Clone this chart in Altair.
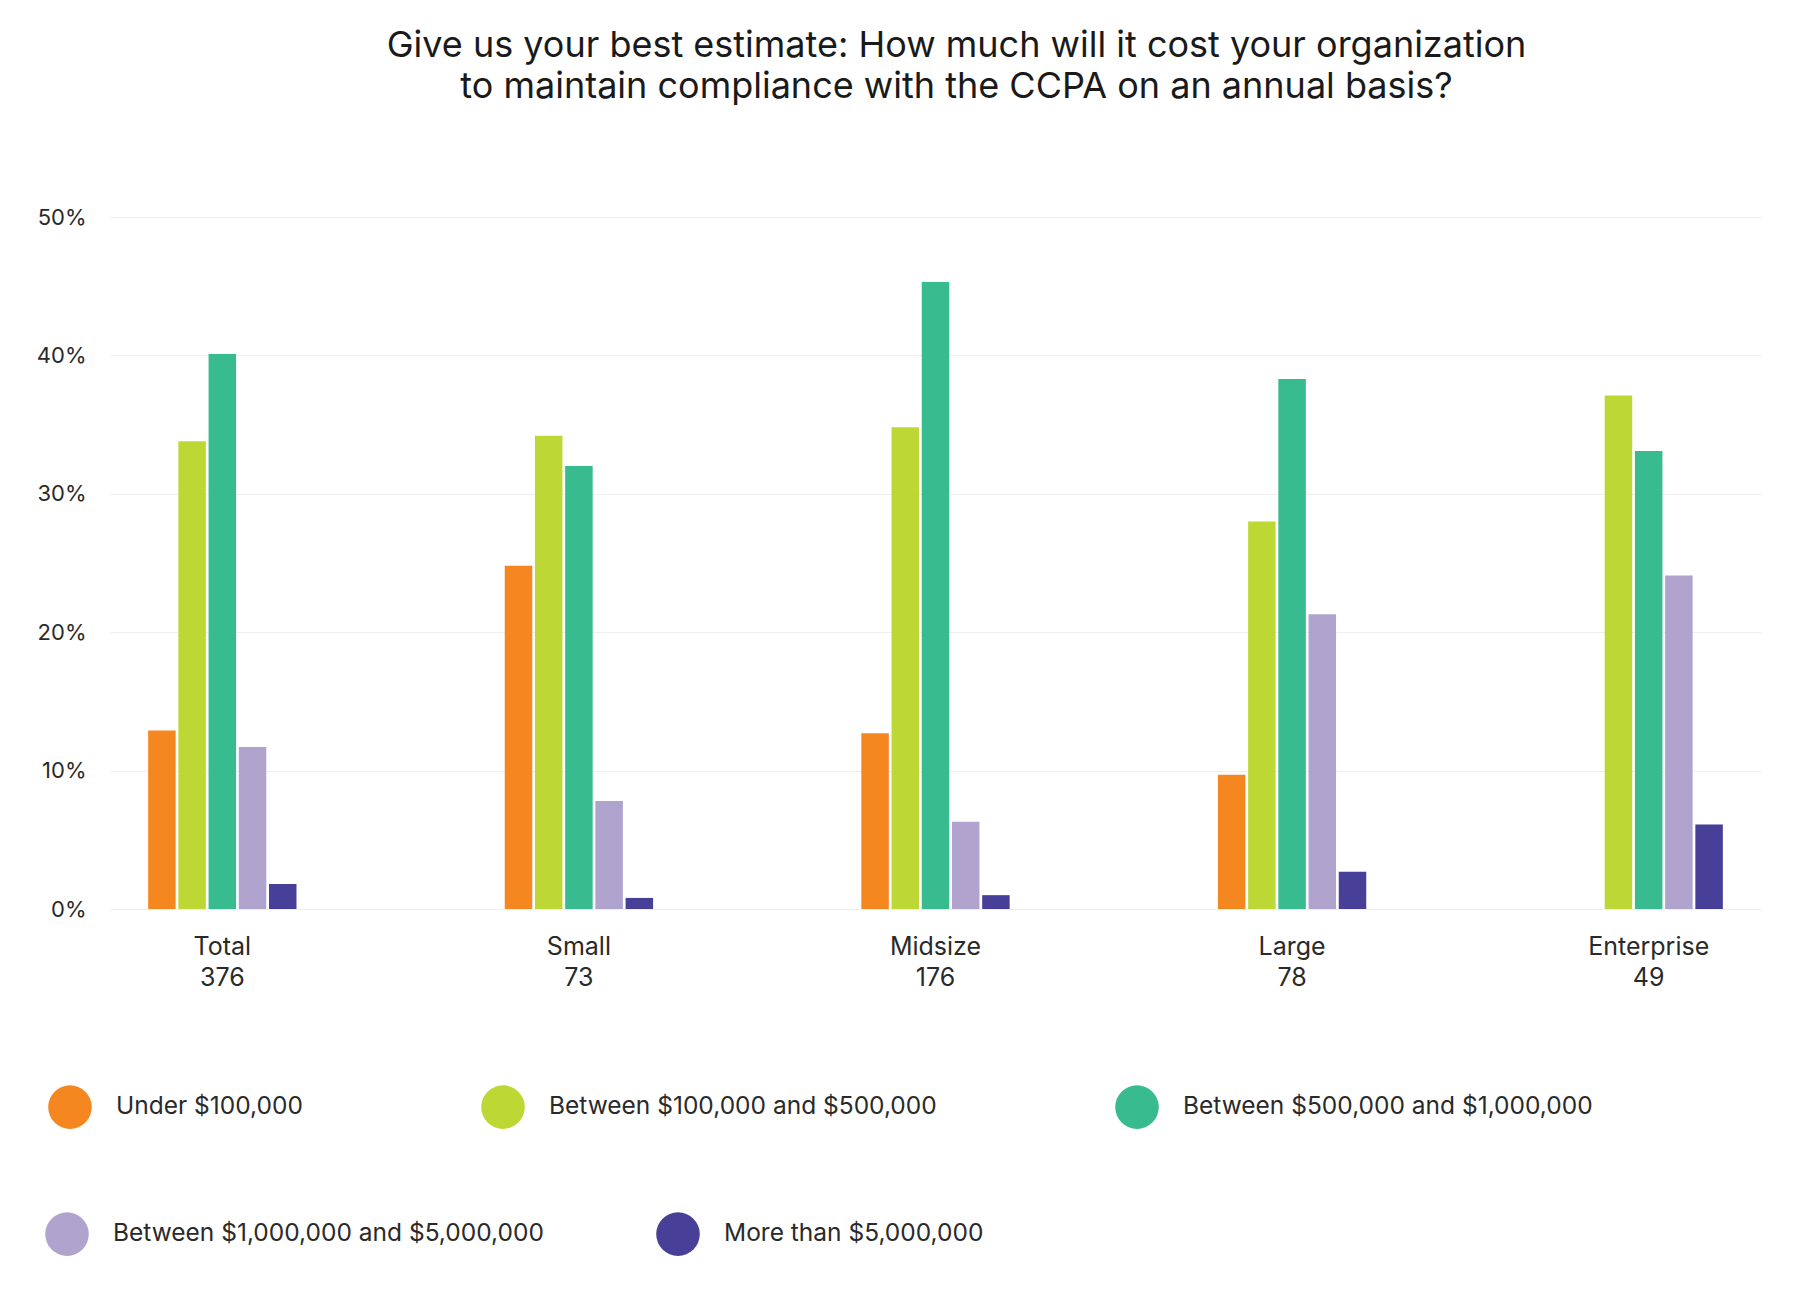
import altair as alt
import pandas as pd

groups = ["Total|376", "Small|73", "Midsize|176", "Large|78", "Enterprise|49"]
series = [
    "Under $100,000",
    "Between $100,000 and $500,000",
    "Between $500,000 and $1,000,000",
    "Between $1,000,000 and $5,000,000",
    "More than $5,000,000",
]
colors = ["#F58720", "#BDD835", "#37BB8F", "#B0A4CF", "#473F98"]

under_100k = [0.129, 0.248, 0.127, 0.097, 0.0]
b100k_500k = [0.338, 0.342, 0.348, 0.280, 0.371]
b500k_1m = [0.401, 0.320, 0.453, 0.383, 0.331]
b1m_5m = [0.117, 0.078, 0.063, 0.213, 0.241]
over_5m = [0.018, 0.008, 0.010, 0.027, 0.061]

values = [under_100k, b100k_500k, b500k_1m, b1m_5m, over_5m]
rows = []
for s, vals in zip(series, values):
    for g, v in zip(groups, vals):
        rows.append({"group": g, "series": s, "value": v})
df = pd.DataFrame(rows)

# legend is split into two rows: first three series, then the last two
row1_series = series[:3]
row2_series = series[3:]
df1 = df[df["series"].isin(row1_series)]
df2 = df[df["series"].isin(row2_series)]

FONT = "Inter"

x_enc = alt.X(
    "group:N",
    sort=groups,
    scale=alt.Scale(paddingInner=0.584, paddingOuter=0.107),
    axis=alt.Axis(
        title=None,
        labelAngle=0,
        labelExpr="split(datum.label, '|')",
        labelFontSize=25,
        labelColor="#2a2a2a",
        labelFont=FONT,
        labelLineHeight=31,
        labelPadding=25,
        ticks=False,
        domain=False,
        grid=False,
    ),
)
xoff_enc = alt.XOffset("series:N", scale=alt.Scale(domain=series, paddingInner=0.09))
y_enc = alt.Y(
    "value:Q",
    scale=alt.Scale(domain=[0, 0.5]),
    axis=alt.Axis(
        title=None,
        format=".0%",
        values=[0, 0.1, 0.2, 0.3, 0.4, 0.5],
        labelFontSize=22,
        labelColor="#2a2a2a",
        labelFont=FONT,
        labelPadding=24,
        ticks=False,
        domain=False,
        gridColor="#eeeeee",
        gridWidth=1,
    ),
)


def legend(x, y, pad):
    return alt.Legend(
        title=None,
        orient="none",
        legendX=x,
        legendY=y,
        direction="horizontal",
        columnPadding=pad,
        symbolType="circle",
        symbolSize=1900,
        symbolStrokeWidth=0,
        symbolOpacity=1,
        labelFontSize=24.5,
        labelFont=FONT,
        labelColor="#2a2a2a",
        labelOffset=24,
        labelLimit=700,
    )


bars1 = alt.Chart(df1).mark_bar(strokeWidth=0).encode(
    x=x_enc,
    xOffset=xoff_enc,
    y=y_enc,
    color=alt.Color(
        "series:N",
        scale=alt.Scale(domain=row1_series, range=colors[:3]),
        legend=legend(-62, 868, 178),
    ),
)

bars2 = alt.Chart(df2).mark_bar(strokeWidth=0).encode(
    x=x_enc,
    xOffset=xoff_enc,
    y=y_enc,
    fill=alt.Fill(
        "series:N",
        scale=alt.Scale(domain=row2_series, range=colors[3:]),
        legend=legend(-65, 995, 112),
    ),
)

chart = (
    alt.layer(bars1, bars2)
    .resolve_scale(color="independent", fill="independent")
    .properties(
        width=1651,
        height=692,
        background="white",
        title=alt.TitleParams(
            text=[
                "Give us your best estimate: How much will it cost your organization",
                "to maintain compliance with the CCPA on an annual basis?",
            ],
            fontSize=36,
            font=FONT,
            fontWeight="normal",
            color="#1a1a1a",
            anchor="middle",
            lineHeight=41,
            offset=100,
            dx=21,
        ),
        autosize=alt.AutoSizeParams(type="none"),
        padding={"left": 110, "top": 217, "right": 59, "bottom": 391},
    )
    .configure_view(strokeWidth=0, stroke="transparent")
)

chart.save("out.html", embed_options={"renderer": "svg", "actions": False})
